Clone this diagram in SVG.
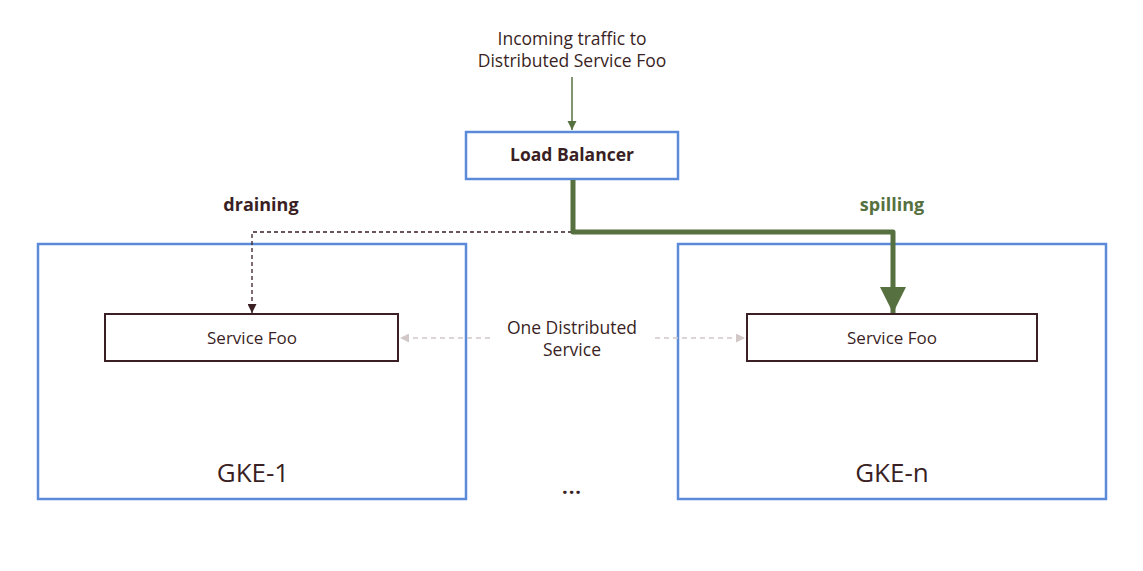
<svg xmlns="http://www.w3.org/2000/svg" width="1143" height="571" viewBox="0 0 1143 571">
<style>
text{font-family:"Open Sans","Liberation Sans",sans-serif;fill:#3a1f24;text-anchor:middle}
.cluster{fill:#fff;stroke:#5b8ad8;stroke-width:2.5}
.svc{fill:#fff;stroke:#3a1f24;stroke-width:2}
.lb{fill:#fff;stroke:#5b8ad8;stroke-width:2.5}
</style>
<defs>
<marker id="ah" viewBox="0 0 10 10" refX="10" refY="5" markerWidth="9" markerHeight="10" markerUnits="userSpaceOnUse" orient="auto"><path d="M0,0L10,5L0,10z" fill="#56703f"/></marker>
<marker id="ahd" viewBox="0 0 10 10" refX="10" refY="5" markerWidth="9" markerHeight="9" markerUnits="userSpaceOnUse" orient="auto"><path d="M0,0L10,5L0,10z" fill="#3a1f24"/></marker>
<marker id="ahg" viewBox="0 0 10 10" refX="10" refY="5" markerWidth="34" markerHeight="26" markerUnits="userSpaceOnUse" orient="auto"><path d="M0,0L10,5L0,10z" fill="#56703f"/></marker>
<marker id="ahl" viewBox="0 0 10 10" refX="10" refY="5" markerWidth="9" markerHeight="9" markerUnits="userSpaceOnUse" orient="auto"><path d="M0,0L10,5L0,10z" fill="#d2c8c8"/></marker>
</defs>
<g id="gke1"><rect class="cluster" x="38" y="244" width="428" height="255"/><text x="253" y="482" font-size="26">GKE-1</text></g>
<g id="gken"><rect class="cluster" x="678" y="244" width="428" height="255"/><text x="892" y="482" font-size="26">GKE-n</text></g>
<g id="svc1"><rect class="svc" x="105" y="314" width="293" height="47"/><text x="252" y="344" font-size="17">Service Foo</text></g>
<g id="svcn"><rect class="svc" x="747" y="314" width="290" height="47"/><text x="892" y="344" font-size="17">Service Foo</text></g>
<g id="lb"><rect class="lb" x="466" y="132" width="212" height="47"/><text x="572" y="161" font-size="17.5" font-weight="bold">Load Balancer</text></g>
<g id="labels">
<text x="572" y="45" font-size="17.5">Incoming traffic to</text>
<text x="572" y="67" font-size="17.5">Distributed Service Foo</text>
<text x="261" y="211" font-size="18" font-weight="bold">draining</text>
<text x="892" y="211" font-size="18" font-weight="bold" style="fill:#56703f">spilling</text>
<text x="572" y="334" font-size="17.5">One Distributed</text>
<text x="572" y="356" font-size="17.5">Service</text>
<text x="572" y="494" font-size="20" font-weight="bold" letter-spacing="1">...</text>
</g>
<g id="connectors" fill="none">
<path d="M572,77V130" stroke="#56703f" stroke-width="1.5" marker-end="url(#ah)"/>
<path d="M572,232H252V313" stroke="#3a1f24" stroke-width="1.3" stroke-dasharray="4,3" marker-end="url(#ahd)"/>
<path d="M573,180V232H893V313" stroke="#56703f" stroke-width="5" stroke-linejoin="round" marker-end="url(#ahg)"/>
<path d="M490,338H400" stroke="#d2c8c8" stroke-width="1.5" stroke-dasharray="5,4" marker-end="url(#ahl)"/>
<path d="M655,338H745" stroke="#d2c8c8" stroke-width="1.5" stroke-dasharray="5,4" marker-end="url(#ahl)"/>
</g>
</svg>
